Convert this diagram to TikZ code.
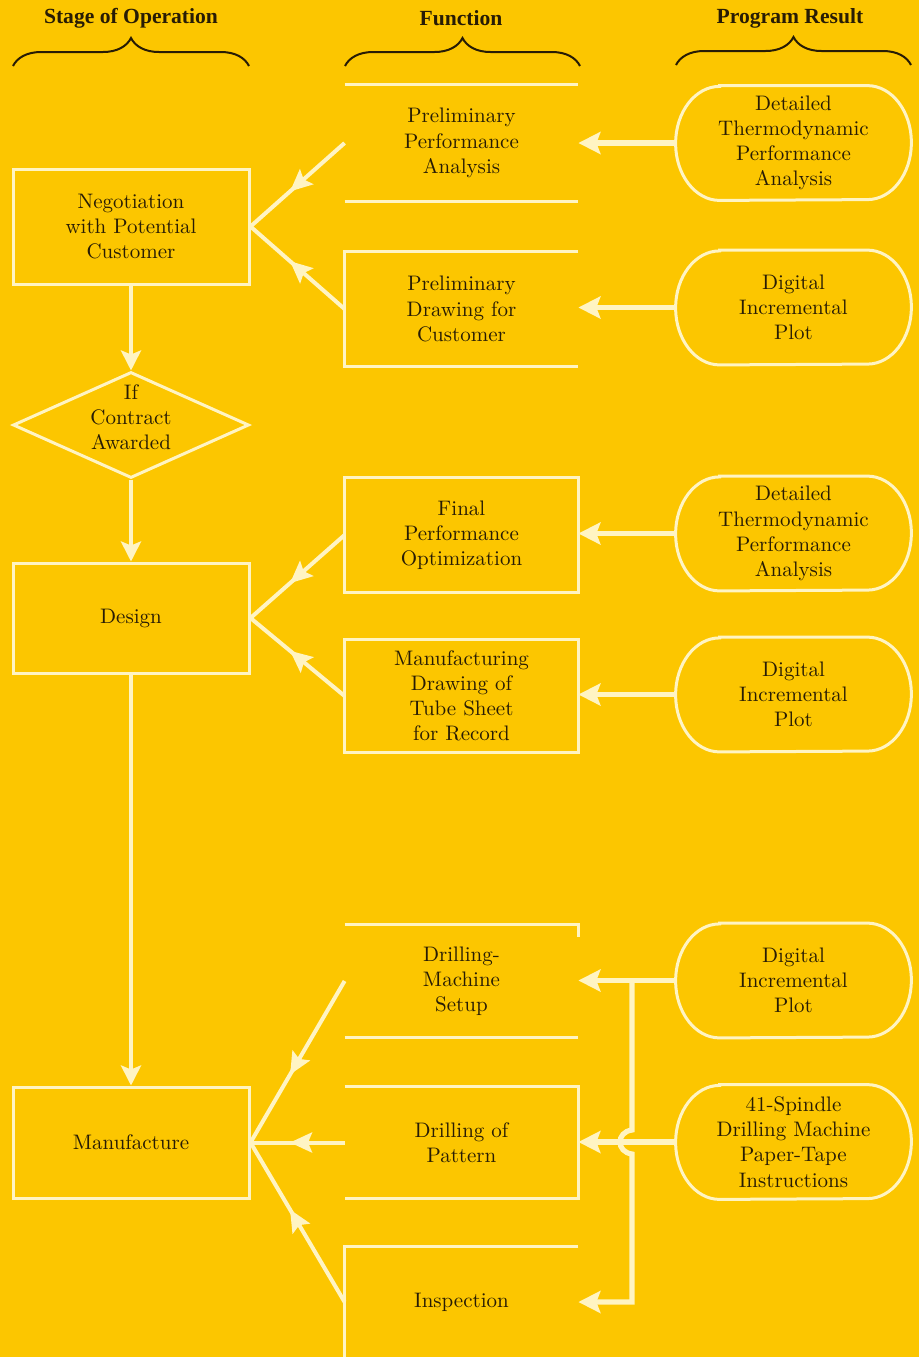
\documentclass[tikz,border=0pt]{standalone}
\usepackage{fontspec}
\newfontfamily\headfont{Liberation Serif}
\usetikzlibrary{arrows.meta,shapes.geometric,decorations.markings,decorations.pathreplacing,calc}

\definecolor{sheet}{RGB}{252,198,0}
\definecolor{rule}{RGB}{255,244,195}
\definecolor{ink}{RGB}{40,28,5}

% outline of a "program result" box: straight top and bottom, elliptic sides
\newcommand{\resultoutline}[1]{%
  \draw[frame]
    ([xshift=22pt]#1.north west) -- ([xshift=-22pt]#1.north east)
    arc[start angle=90, end angle=-90, x radius=22pt, y radius=28.5pt]
    -- ([xshift=22pt]#1.south west)
    arc[start angle=270, end angle=90, x radius=22pt, y radius=28.5pt]
    -- cycle;}

\begin{document}
\begin{tikzpicture}[x=0.5pt, y=-0.5pt,
  every node/.style={text=ink, font=\fontsize{10.5}{12.6}\selectfont,
                     align=center, inner sep=0pt},
  colhead/.style={font=\headfont\bfseries\fontsize{10.8}{12}\selectfont},
  stagebox/.style={draw=rule, line width=1.5pt, minimum width=118pt},
  funcbox/.style={minimum width=116.5pt},
  resultbox/.style={minimum width=117.5pt, minimum height=57pt},
  frame/.style={draw=rule, line width=1.5pt},
  curly/.style={draw=ink, line width=1pt, decorate,
                decoration={brace, amplitude=14pt}},
  flow/.style={draw=rule, line width=2.6pt,
               -{Stealth[length=11pt, width=11pt, inset=2pt]}},
  feed/.style={draw=rule, line width=2.2pt,
               -{Stealth[length=10pt, width=10pt, inset=2pt]}},
  branch/.style={draw=rule, line width=2pt, postaction={decorate},
    decoration={markings, mark=at position 0.58 with
      {\arrow{Stealth[length=11pt, width=10pt, inset=2pt, color=rule]}}}},
]
\useasboundingbox (0,0) rectangle (919,1357);
\fill[sheet] (0,0) rectangle (919,1357);

% column headings with braces
\node[colhead] (hstage) at (131,18) {Stage of Operation};
\node[colhead] (hfunc)  at (461,18) {Function};
\node[colhead] (hres)   at (790,18) {Program Result};
\draw[curly] (13,66) -- (249,66);
\draw[curly] (345,66) -- (580,66);
\draw[curly] (676,65) -- (911,65);

% stages of operation
\node[stagebox, minimum height=57.5pt] (nego) at (131,226.5)
  {Negotiation\\with Potential\\Customer};
\node[shape=diamond, draw=rule, line width=1.5pt, minimum width=118pt,
      minimum height=53pt,
      label={[name=awardtext, yshift=4pt]center:If\\Contract\\Awarded}]
  (award) at (131,425) {};
\node[stagebox, minimum height=55pt] (design) at (131,618) {Design};
\node[stagebox, minimum height=55.5pt] (manu) at (131,1142.5) {Manufacture};

% functions
\node[funcbox, minimum height=58pt] (b1) at (461.5,143)
  {Preliminary\\Performance\\Analysis};
\node[funcbox, minimum height=57pt] (b2) at (461.5,309)
  {Preliminary\\Drawing for\\Customer};
\node[funcbox, minimum height=57pt] (b3) at (461.5,535)
  {Final\\Performance\\Optimization};
\node[funcbox, minimum height=56pt] (b4) at (461.5,696)
  {Manufacturing\\Drawing of\\Tube Sheet\\for Record};
\node[funcbox, minimum height=56pt] (b5) at (461.5,981)
  {Drilling-\\Machine\\Setup};
\node[funcbox, minimum height=55.5pt] (b6) at (461.5,1142.5)
  {Drilling of\\Pattern};
\node[funcbox, minimum height=55pt] (b7) at (461.5,1302) {Inspection};

\draw[frame] (b1.north west) -- (b1.north east) (b1.south west) -- (b1.south east);
\draw[frame] (b2.north east) -- (b2.north west) -- (b2.south west) -- (b2.south east);
\draw[frame] (b3.north west) rectangle (b3.south east);
\draw[frame] (b4.north west) rectangle (b4.south east);
\draw[frame] (b5.north west) -- (b5.north east) -- ++(0,12)
             (b5.south west) -- (b5.south east);
\draw[frame] (b6.north west) -- (b6.north east) -- (b6.south east) -- (b6.south west);
\draw[frame] (b7.north east) -- (b7.north west) -- (b7.south west);

% program results
\node[resultbox] (r1) at (793.5,143)
  {Detailed\\Thermodynamic\\Performance\\Analysis};
\node[resultbox] (r2) at (793.5,307.5) {Digital\\Incremental\\Plot};
\node[resultbox] (r3) at (793.5,533.5)
  {Detailed\\Thermodynamic\\Performance\\Analysis};
\node[resultbox] (r4) at (793.5,694.5) {Digital\\Incremental\\Plot};
\node[resultbox] (r5) at (793.5,980.5) {Digital\\Incremental\\Plot};
\node[resultbox] (r6) at (793.5,1142)
  {41-Spindle\\Drilling Machine\\Paper-Tape\\Instructions};
\foreach \n in {r1,r2,r3,r4,r5,r6} {\resultoutline{\n}}

% results feed the functions
\draw[flow] (r1.west) -- (r1.west -| b1.east);
\draw[flow] (r2.west) -- (r2.west -| b2.east);
\draw[flow] (r3.west) -- (r3.west -| b3.east);
\draw[flow] (r4.west) -- (r4.west -| b4.east);
\draw[flow] (r5.west) -- (r5.west -| b5.east);
\draw[flow] (r6.west) -- (r6.west -| b6.east);
\coordinate (busx) at (632,0);
\draw[flow] (r5.west -| busx)
  -- ($(r6.west -| busx)+(0,-12)$)
  .. controls ($(r6.west -| busx)+(-16,-10)$) and ($(r6.west -| busx)+(-16,10)$)
  .. ($(r6.west -| busx)+(0,12)$)
  -- (b7.east -| busx) -- (b7.east);

% sequence of stages
\draw[feed] (nego.south) -- (award.north);
\draw[feed] (award.south) -- (design.north);
\draw[feed] (design.south) -- (manu.north);

% functions serve the stages
\draw[branch] (b1.west) -- (nego.east);
\draw[branch] (b2.west) -- (nego.east);
\draw[branch] (b3.west) -- (design.east);
\draw[branch] (b4.west) -- (design.east);
\draw[branch] (b5.west) -- (manu.east);
\draw[branch] (b6.west) -- (manu.east);
\draw[branch] (b7.west) -- (manu.east);
\end{tikzpicture}
\end{document}
